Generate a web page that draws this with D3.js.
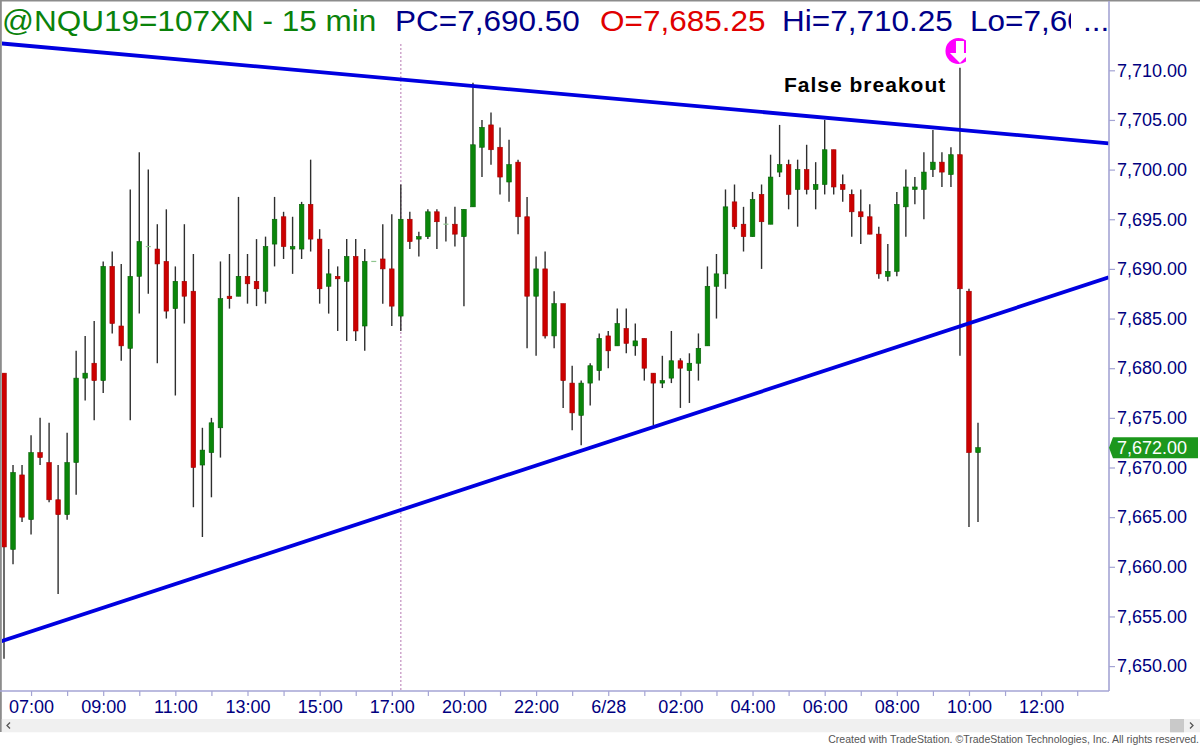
<!DOCTYPE html>
<html>
<head>
<meta charset="utf-8">
<title>@NQU19 15 min</title>
<script src="https://cdn.jsdelivr.net/npm/d3@7/dist/d3.min.js"></script>
<style>
  html, body { margin: 0; padding: 0; background: #fff; overflow: hidden; }
  svg { display: block; font-family: "Liberation Sans", Arial, sans-serif; }
</style>
</head>
<body>
<svg id="chart" width="1200" height="745"></svg>
<script>
// 15 minute bars
const opens = [7679.5,7661.75,7669.25,7664.75,7671.5,7670.5,7666.75,7665.25,7670.5,7679,
  7680.5,7678.75,7690.25,7684.25,7682,7689.25,7692.25,7692,7690.75,7686,
  7688.75,7687.75,7670.25,7671.5,7674,7687.25,7687.25,7689.25,7688.75,7687.75,
  7692.5,7695.25,7692,7692,7696.5,7693,7688.25,7689.25,7688.75,7691.25,
  7684.25,7690.75,7691,7690,7685.25,7695,7693,7693.25,7695.75,7694.5,
  7694.5,7693.25,7696.25,7702.25,7704.5,7702.25,7698.75,7700.75,7695.25,7687.25,
  7690,7683.25,7686.5,7678.5,7675.25,7678.5,7679.75,7683.25,7682.25,7684,
  7682.25,7683,7679.5,7678.5,7679,7680.75,7679.75,7680.5,7682.25,7688.25,
  7689.5,7696.75,7694.5,7693.25,7697.5,7694.5,7699.75,7700.5,7698,7700,
  7698,7698.5,7702,7698.5,7697.5,7695.75,7695.25,7693.5,7689.25,7689.75,
  7696.25,7698,7698,7700,7700.75,7699.5,7701.5,7687.75,7671.5];
const highs = [7679.5,7670.25,7670.25,7673.25,7675,7674.5,7670.25,7673.5,7681.75,7683.25,
  7684.75,7690.75,7691.75,7690.5,7698,7701.75,7700,7694.5,7696,7690.25,
  7694.5,7691.5,7674,7675,7690.75,7691.5,7697.25,7691.5,7693,7693.25,
  7697.25,7695.75,7695.25,7696.75,7701,7694,7692,7690.25,7693,7693,
  7692,7690.75,7694.5,7695.5,7698.5,7695.75,7693.75,7696,7696,7695.25,
  7696.25,7696,7708.75,7705,7705.75,7704.25,7703,7701,7697.25,7691.25,
  7691.75,7687.75,7686.5,7680.25,7678.75,7680.5,7683.5,7683.75,7686,7686,
  7684.5,7683,7679.5,7681.25,7683.75,7681,7681.5,7683.5,7690.25,7691.5,
  7698,7698.5,7696.25,7697.75,7698.5,7701.5,7704.5,7701,7701,7702.5,
  7700.75,7705,7702,7699.5,7698,7698,7696.5,7694.25,7692.5,7697.75,
  7700,7699.25,7701.75,7704,7701.75,7702.25,7710.25,7688,7674.5];
const lows = [7650.75,7660.25,7664.5,7663.25,7670.25,7666.5,7657.25,7664.75,7667.25,7676.75,
  7674.75,7677.5,7683.5,7680.75,7674.75,7685.5,7687.5,7680.5,7685,7677.25,
  7684.5,7666,7663,7667,7671,7686,7687.25,7686.5,7686.25,7686.5,
  7690.25,7691,7689.5,7691,7691.75,7686.5,7685.5,7683.75,7682.75,7682.75,
  7681.75,7690.75,7686.5,7684.25,7683.75,7692,7691.25,7693,7692,7692.75,
  7692.25,7686.25,7696.25,7699.25,7700.5,7697.5,7696.75,7693.5,7682,7681.25,
  7683,7682,7676,7673.75,7672.25,7676.25,7678.75,7680,7682.25,7681.5,
  7681.25,7678.75,7674.25,7678,7678.5,7676,7676.5,7678.75,7682.25,7685,
  7688,7694,7691.75,7693.25,7690,7694.5,7699.25,7696,7694.25,7697.5,
  7696,7697.5,7697.5,7696.75,7693.25,7692.5,7693.5,7689,7688.75,7689.25,
  7693.25,7696.5,7695,7699.25,7698.25,7698.25,7681.25,7664,7664.5];
const closes = [7662,7669.5,7665,7671.5,7671,7666.75,7665.25,7670.5,7679,7679.5,
  7678.75,7690.25,7684.5,7682.25,7689.25,7692.75,7692.25,7690.5,7685.75,7688.75,
  7687.25,7670,7671.75,7674.5,7687,7687,7689.25,7688.5,7688,7692.25,
  7695,7692.25,7692.25,7696.5,7693,7688,7689.5,7689,7691.25,7683.75,
  7690.75,7690.75,7690,7686.25,7695,7692.75,7693.25,7695.75,7694.75,7694.5,
  7693.5,7696,7702.5,7704.25,7702,7699.25,7700.5,7695.25,7687.25,7690,
  7683.25,7686.5,7678.75,7675.5,7678.5,7680.25,7683,7681.75,7684.5,7682.5,
  7682.75,7680,7678.5,7678.75,7680.75,7680,7680.5,7682,7688.25,7689.5,
  7696.25,7694.25,7693.25,7697,7694.75,7699.25,7700.5,7697.5,7700,7698,
  7698.5,7702,7698.25,7698,7695.75,7695.25,7693.5,7689.5,7689.75,7696.5,
  7698.25,7698.25,7699.75,7700.75,7699.75,7701.5,7688,7671.5,7672];

const priceTicks = [7650,7655,7660,7665,7670,7675,7680,7685,7690,7695,7700,7705,7710];
const timeTickBars = [3,7,11,15,19,23,27,31,35,39,43,47,51,55,59,63,67,71,75,79,83,87,91,95,99,103,107,111,115,119];
const timeTickLabels = ["07:00","","09:00","","11:00","","13:00","","15:00","","17:00","","20:00","","22:00","","6/28","","02:00","","04:00","","06:00","","08:00","","10:00","","12:00",""];

// trendlines as [bar, price]
const upperTrend = [[-0.44,7712.72],[122.5,7702.65]];
const lowerTrend = [[-0.44,7652.46],[122.5,7689.15]];
const sessionBar = 44;
const signalBar = 106;
const lastPrice = 7672;

const headerParts = [
  { text: "@NQU19=107XN - 15 min", x: 2, color: "#0a820a" },
  { text: "PC=7,690.50", x: 395, color: "#000088" },
  { text: "O=7,685.25", x: 600, color: "#e00000" },
  { text: "Hi=7,710.25", x: 782, color: "#000088" },
  { text: "Lo=7,60", x: 970, color: "#000088", clip: true },
  { text: "...", x: 1083, color: "#000088" }
];

const navy = "#000080";
const axisColor = "#a4a4d4";
const red = "#cc0000";
const green = "#0a860a";
const plot = { left: 2, right: 1109, top: 38, bottom: 691 };

const svg = d3.select("#chart");
const defs = svg.append("defs");
defs.append("clipPath").attr("id", "plotClip").append("rect")
  .attr("x", plot.left).attr("y", plot.top)
  .attr("width", plot.right - plot.left).attr("height", plot.bottom - plot.top);
defs.append("clipPath").attr("id", "markerClip").append("rect")
  .attr("x", 940).attr("y", 37).attr("width", 26).attr("height", 30);
defs.append("clipPath").attr("id", "headerClip").append("rect")
  .attr("x", 960).attr("y", 0).attr("width", 111).attr("height", 45);

// Escales
const x = d3.scaleLinear().domain([0, 108]).range([4, 978]);
const y = d3.scaleLinear().domain([7650, 7710]).range([666.1, 70.3]);

// window frame
svg.append("rect").attr("width", 1200).attr("height", 745).attr("fill", "#fff");
svg.append("rect").attr("width", 1200).attr("height", 1.5).attr("fill", "#8c8c8c");
svg.append("rect").attr("width", 1.8).attr("height", 732).attr("fill", "#8c8c8c");

// header, text a bit wider than the font; the Lo value is cut off like in the platform
svg.append("g").selectAll("g")
  .data(headerParts)
  .enter().append("g")
  .attr("clip-path", d => d.clip ? "url(#headerClip)" : null)
  .append("text")
  .attr("transform", d => `translate(${d.x},31) scale(1.05,1)`)
  .attr("font-size", 30)
  .attr("fill", d => d.color)
  .text(d => d.text);

// session break
svg.append("line")
  .attr("x1", x(sessionBar)).attr("x2", x(sessionBar))
  .attr("y1", 44).attr("y2", plot.bottom)
  .attr("stroke", "#c797c4").attr("stroke-width", 1.3).attr("stroke-dasharray", "2,2");

// candles
const bars = d3.range(opens.length);
const g = svg.append("g").attr("clip-path", "url(#plotClip)");

g.selectAll(".wick")
  .data(bars)
  .enter().append("line")
  .attr("class", "wick")
  .attr("x1", i => x(i)).attr("x2", i => x(i))
  .attr("y1", i => y(highs[i])).attr("y2", i => y(lows[i]))
  .attr("stroke", "#2e2e2e").attr("stroke-width", 1.4);

g.selectAll(".body")
  .data(bars.filter(i => opens[i] !== closes[i]))
  .enter().append("rect")
  .attr("class", "body")
  .attr("x", i => x(i) - 2.3)
  .attr("width", 4.6)
  .attr("y", i => y(Math.max(opens[i], closes[i])))
  .attr("height", i => Math.abs(y(opens[i]) - y(closes[i])))
  .attr("fill", i => closes[i] > opens[i] ? green : red)
  .attr("stroke", i => closes[i] > opens[i] ? "#066006" : "#a00000")
  .attr("stroke-width", 0.6);

// bars with open = close are only a faint dash
g.selectAll(".doji")
  .data(bars.filter(i => opens[i] === closes[i]))
  .enter().append("line")
  .attr("class", "doji")
  .attr("x1", i => x(i) - 2.5).attr("x2", i => x(i) + 2.5)
  .attr("y1", i => y(opens[i])).attr("y2", i => y(opens[i]))
  .attr("stroke", "#8fc58f").attr("stroke-width", 1.2);

// trendlines
const trend = d3.line().x(d => x(d[0])).y(d => y(d[1]));
g.selectAll(".trend")
  .data([upperTrend, lowerTrend])
  .enter().append("path")
  .attr("class", "trend")
  .attr("d", trend)
  .attr("fill", "none")
  .attr("stroke", "#0000e0")
  .attr("stroke-width", 3.8);

// false breakout label and arrow marker
svg.append("text")
  .attr("x", 784).attr("y", 91.5)
  .attr("font-size", 21).attr("font-weight", "bold")
  .attr("letter-spacing", 1)
  .attr("fill", "#000")
  .text("False breakout");

const marker = svg.append("g")
  .attr("clip-path", "url(#markerClip)");
const mx = x(signalBar);
marker.append("circle")
  .attr("cx", mx - 1.5).attr("cy", 51).attr("r", 13).attr("fill", "#ff00ff");
marker.append("path")
  .attr("d", `M${mx - 4},41 h8 v12 h6 l-10,10 l-10,-10 h6 z`)
  .attr("fill", "#fff");

// Eixos
const yAxis = svg.append("g")
  .attr("transform", `translate(${plot.right},0)`)
  .call(d3.axisRight(y)
    .tickValues(priceTicks)
    .tickSize(6)
    .tickPadding(2)
    .tickFormat(d3.format(",.2f")));
yAxis.select(".domain").remove();
yAxis.selectAll("text").attr("font-size", 18).attr("font-family", null).attr("fill", navy);
yAxis.selectAll("line").attr("stroke", axisColor).attr("stroke-width", 1.2);
svg.append("line")
  .attr("x1", plot.right).attr("x2", plot.right)
  .attr("y1", 1).attr("y2", plot.bottom)
  .attr("stroke", axisColor).attr("stroke-width", 1.6);

const xAxis = svg.append("g")
  .attr("transform", `translate(0,${plot.bottom})`)
  .call(d3.axisBottom(x)
    .tickValues(timeTickBars)
    .tickSize(5)
    .tickPadding(4)
    .tickFormat((d, i) => timeTickLabels[i]));
xAxis.select(".domain").remove();
xAxis.selectAll("text").attr("font-size", 18).attr("font-family", null).attr("fill", navy);
xAxis.selectAll("line").attr("stroke", axisColor).attr("stroke-width", 1.2);
svg.append("line")
  .attr("x1", 0).attr("x2", plot.right)
  .attr("y1", plot.bottom).attr("y2", plot.bottom)
  .attr("stroke", axisColor).attr("stroke-width", 1.6);

// last price flag
const ly = y(lastPrice);
svg.append("path")
  .attr("d", `M${plot.right},${ly} L${plot.right + 4},${ly - 10.5} H1198 V${ly + 10.5} H${plot.right + 4} Z`)
  .attr("fill", "#1c971c");
svg.append("text")
  .attr("x", 1117).attr("y", ly).attr("dy", "0.36em")
  .attr("font-size", 18).attr("fill", "#fff")
  .text(d3.format(",.2f")(lastPrice));

// scrollbar
svg.append("rect").attr("x", 1.8).attr("y", 719).attr("width", 1198.2).attr("height", 13.3).attr("fill", "#f0f0f0");
svg.append("rect").attr("x", 1170).attr("y", 719).attr("width", 14).attr("height", 13.3).attr("fill", "#c9c9c9");
svg.append("path").attr("d", "M10,722.5 l-3,3 l3,3").attr("fill", "none").attr("stroke", "#555").attr("stroke-width", 1.3);
svg.append("path").attr("d", "M1190,722.5 l3,3 l-3,3").attr("fill", "none").attr("stroke", "#555").attr("stroke-width", 1.3);

// credit
svg.append("text")
  .attr("x", 1199).attr("y", 743)
  .attr("text-anchor", "end")
  .attr("font-size", 10.5)
  .attr("fill", "#555")
  .text("Created with TradeStation. ©TradeStation Technologies, Inc. All rights reserved.");
</script>
</body>
</html>
